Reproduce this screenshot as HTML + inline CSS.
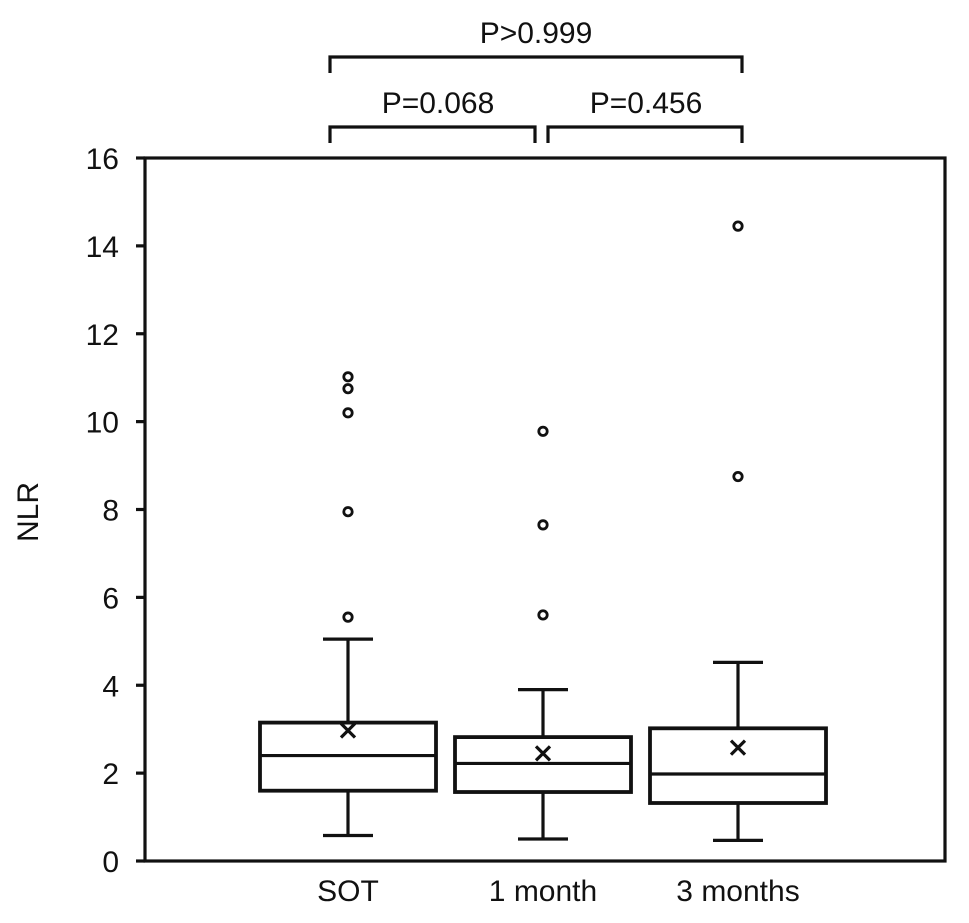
<!DOCTYPE html>
<html><head><meta charset="utf-8"><style>
body{margin:0;background:#fff}
svg text{font-family:"Liberation Sans",sans-serif;fill:#111}
</style></head><body>
<svg id="chart" width="969" height="918" viewBox="0 0 969 918" xmlns="http://www.w3.org/2000/svg"></svg>
<script>
const categories = ["SOT", "1 month", "3 months"];
const q1Values = [1.6, 1.57, 1.32];
const medianValues = [2.4, 2.22, 1.98];
const q3Values = [3.15, 2.82, 3.02];
const whiskerLow = [0.58, 0.5, 0.47];
const whiskerHigh = [5.05, 3.9, 4.52];
const meanValues = [2.97, 2.45, 2.58];
const outliers = [[5.55, 7.95, 10.2, 10.75, 11.02], [5.6, 7.65, 9.78], [8.75, 14.45]];
const yTicks = [0, 2, 4, 6, 8, 10, 12, 14, 16];
const pLabels = ["P>0.999", "P=0.068", "P=0.456"];

const svg = document.getElementById('chart');
const NS = 'http://www.w3.org/2000/svg';
const L = 145, R = 945, T = 158, B = 861;
const y = v => B - (v / 16) * (B - T);
const xCenters = [348, 543, 738];
const x = i => xCenters[i];
const boxW = 176, capW = 50;
const FS = 30;

function el(tag, attrs, parent) {
  const e = document.createElementNS(NS, tag);
  for (const k in attrs) e.setAttribute(k, attrs[k]);
  (parent || svg).appendChild(e);
  return e;
}
const stroke = {stroke: '#111', 'stroke-width': 3.2, fill: 'none'};

const frame = el('rect', Object.assign({x: L, y: T, width: R - L, height: B - T}, stroke));



yTicks.forEach(t => {
  const tk = el('line', Object.assign({x1: L - 9, x2: L, y1: y(t), y2: y(t)}, stroke));
  
  
  const lb = el('text', {x: 119, y: y(t) + 11, 'text-anchor': 'end', 'font-size': FS});
  lb.textContent = t;
  
  
});

const yt = el('text', {x: 38, y: 512, 'text-anchor': 'middle', 'font-size': FS, transform: 'rotate(-90 38 512)'});
yt.textContent = 'NLR';



categories.forEach((c, i) => {
  const g = el('g', {});
  
  
  const cx = x(i);
  el('line', Object.assign({x1: cx, x2: cx, y1: y(q3Values[i]), y2: y(whiskerHigh[i])}, stroke), g);
  el('line', Object.assign({x1: cx, x2: cx, y1: y(q1Values[i]), y2: y(whiskerLow[i])}, stroke), g);
  el('line', Object.assign({x1: cx - capW / 2, x2: cx + capW / 2, y1: y(whiskerHigh[i]), y2: y(whiskerHigh[i])}, stroke), g);
  el('line', Object.assign({x1: cx - capW / 2, x2: cx + capW / 2, y1: y(whiskerLow[i]), y2: y(whiskerLow[i])}, stroke), g);
  el('rect', Object.assign({x: cx - boxW / 2, y: y(q3Values[i]), width: boxW, height: y(q1Values[i]) - y(q3Values[i]), fill: '#fff'}, {stroke: '#111', 'stroke-width': 3.8}), g);
  el('line', Object.assign({x1: cx - boxW / 2, x2: cx + boxW / 2, y1: y(medianValues[i]), y2: y(medianValues[i])}, stroke), g);
  const my = y(meanValues[i]);
  el('path', Object.assign({d: `M${cx-7},${my-7}L${cx+7},${my+7}M${cx+7},${my-7}L${cx-7},${my+7}`}, stroke), g);
  outliers[i].forEach(o => {
    const p = el('circle', {cx: cx, cy: y(o), r: 4.2, fill: 'none', stroke: '#111', 'stroke-width': 2.8}, g);
    
    
  });
  const lb = el('text', {x: cx, y: 901, 'text-anchor': 'middle', 'font-size': FS});
  lb.textContent = c;
  
  
});

function bracket(x1, x2, yy, label, name, tx) {
  const g = el('g', {});
  
  
  el('path', Object.assign({d: `M${x1},${yy+16}V${yy}H${x2}V${yy+16}`}, stroke), g);
  const t = el('text', {x: tx, y: yy - 14, 'text-anchor': 'middle', 'font-size': FS}, g);
  t.textContent = label;
}
bracket(330, 742, 57, pLabels[0], 'bracket-sot-vs-3-months', 536);
bracket(330, 535, 127, pLabels[1], 'bracket-sot-vs-1-month', 438);
bracket(548, 742, 127, pLabels[2], 'bracket-1-vs-3-months', 646);
</script>
</body></html>
